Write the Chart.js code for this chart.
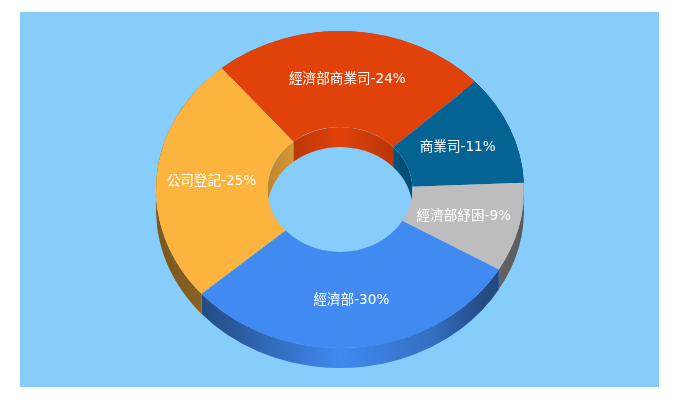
<!DOCTYPE html>
<html>
<head>
<meta charset="utf-8">
<style>
    html, body { margin: 0; padding: 0; background: #fff; }
    #panel { position: absolute; left: 20px; top: 12px; width: 639px; height: 375px; background: #87cdfb; }
    #grafico { position: absolute; left: 0; top: 0; }
</style>
</head>
<body>
<div id="panel"></div>
<canvas id="grafico" width="680" height="400"></canvas>
<script src="https://cdn.jsdelivr.net/npm/chart.js@4"></script>
<script>
const categories = ['經濟部商業司', '商業司', '經濟部紓困', '經濟部', '公司登記'];
const shares = [24.2, 11.2, 9.1, 30.1, 25.3];
const shownPercent = [24, 11, 9, 30, 25];
const colors = ['#e14209', '#056494', '#bdbdbd', '#408af1', '#fdb43f'];

// the round donut from Chart.js gets squashed and put on a fake 3D wall
const FACE_CENTER_Y = 189.5;
const SQUASH = 158.5 / 184;
const DEPTH = 20;

function sideShade(ctx, left, right, stops) {
    const g = ctx.createLinearGradient(left, 0, right, 0);
    stops.forEach(s => g.addColorStop(s[0], `rgba(0,0,0,${s[1]})`));
    return g;
}

function band(ctx, x, y, rx, ry, a0, a1) {
    ctx.beginPath();
    ctx.ellipse(x, y, rx, ry, 0, a0, a1);
    ctx.ellipse(x, y + DEPTH, rx, ry, 0, a1, a0, true);
    ctx.closePath();
}

const wallPlugin = {
    id: 'wall',
    beforeDatasetsDraw(chart) {
        const ctx = chart.ctx;
        const arcs = chart.getDatasetMeta(0).data;
        const cx = arcs[0].x;
        const rOut = arcs[0].outerRadius;
        const rIn = arcs[0].innerRadius;

        const outerShade = sideShade(ctx, cx - rOut, cx + rOut, [
            [0, 0.52], [0.12, 0.46], [0.25, 0.3], [0.5, 0], [0.75, 0.2], [0.88, 0.44], [1, 0.52]
        ]);
        const innerShade = sideShade(ctx, cx - rIn, cx + rIn, [[0, 0.25], [0.5, 0], [1, 0.25]]);

        // outer wall
        arcs.forEach((arc, i) => {
            band(ctx, cx, FACE_CENTER_Y, rOut, rOut * SQUASH, arc.startAngle, arc.endAngle);
            ctx.fillStyle = colors[i];
            ctx.fill();
            ctx.fillStyle = outerShade;
            ctx.fill();
        });

        // inner wall, visible only through the hole
        ctx.save();
        ctx.beginPath();
        ctx.ellipse(cx, FACE_CENTER_Y, rIn, rIn * SQUASH, 0, 0, Math.PI * 2);
        ctx.clip();
        arcs.forEach((arc, i) => {
            band(ctx, cx, FACE_CENTER_Y, rIn, rIn * SQUASH, arc.startAngle, arc.endAngle);
            ctx.fillStyle = colors[i];
            ctx.fill();
            ctx.fillStyle = innerShade;
            ctx.fill();
        });
        ctx.restore();

        ctx.save();
        ctx.translate(cx, FACE_CENTER_Y);
        ctx.scale(1, SQUASH);
        ctx.translate(-cx, -arcs[0].y);
    },
    afterDatasetsDraw(chart) {
        const ctx = chart.ctx;
        ctx.restore();

        const arcs = chart.getDatasetMeta(0).data;
        ctx.save();
        ctx.font = '13.6px "DejaVu Sans", "Noto Sans CJK TC"';
        ctx.fillStyle = '#fff';
        ctx.textAlign = 'center';
        ctx.textBaseline = 'middle';
        arcs.forEach((arc, i) => {
            const p = arc.getCenterPoint();
            const y = FACE_CENTER_Y + (p.y - arc.y) * SQUASH;
            ctx.fillText(`${categories[i]}-${shownPercent[i]}%`, p.x - 0.7, y + 0.5);
        });
        ctx.restore();
    }
};

new Chart(document.getElementById('grafico'), {
    type: 'doughnut',
    data: {
        labels: categories,
        datasets: [{
            data: shares,
            backgroundColor: colors,
            borderWidth: 0,
            hoverOffset: 0,
            clip: false
        }]
    },
    options: {
        responsive: false,
        animation: false,
        events: [],
        rotation: -40,
        cutout: '39.4%',
        layout: { padding: { top: 16, bottom: 16 } },
        plugins: { legend: { display: false }, tooltip: { enabled: false } }
    },
    plugins: [wallPlugin]
});
</script>
</body>
</html>
